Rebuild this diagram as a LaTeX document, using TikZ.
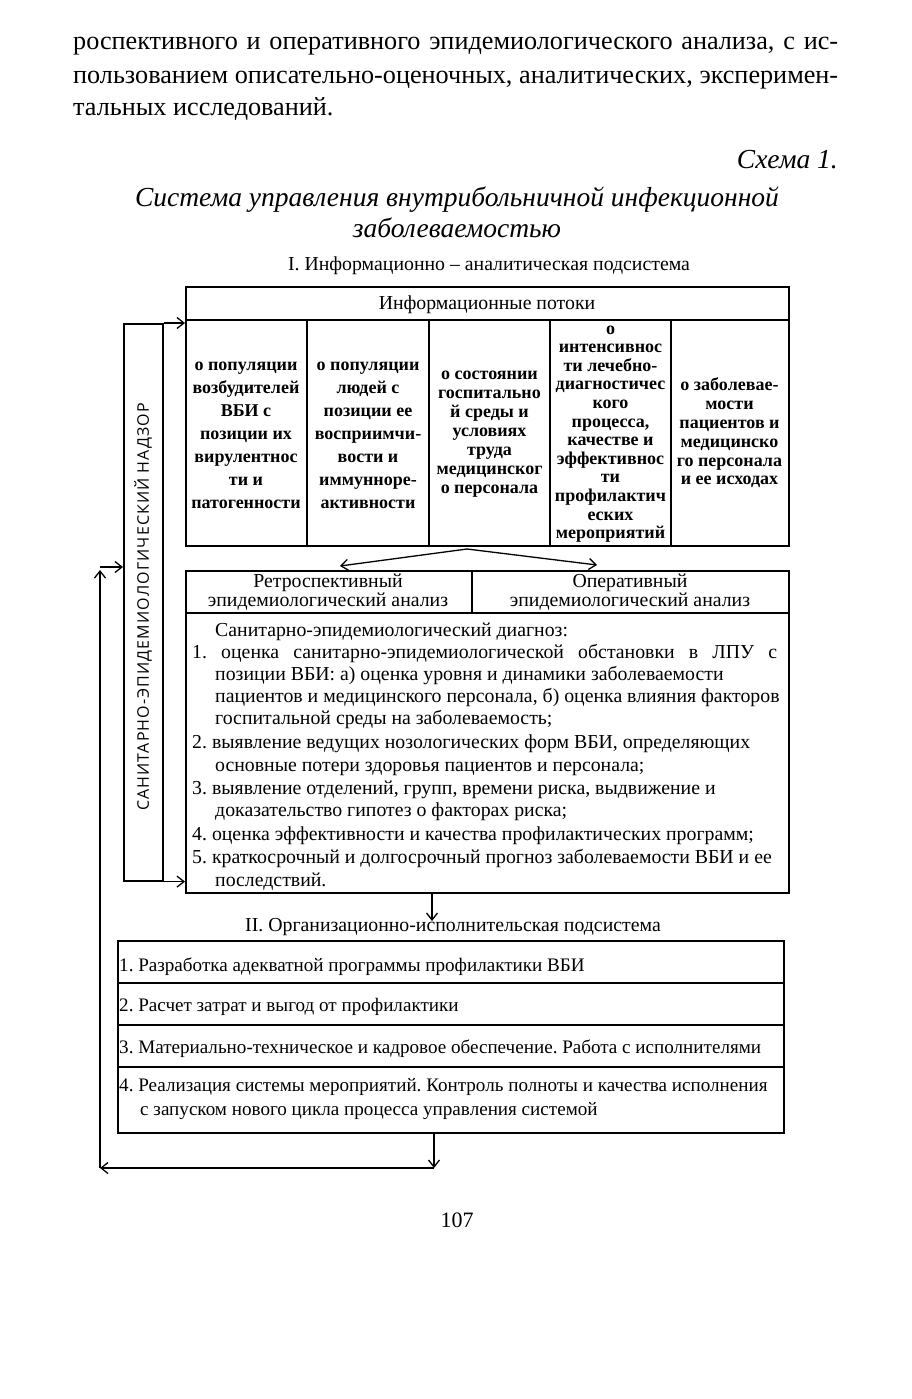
\documentclass[tikz,border=0pt]{standalone}
\usepackage{fontspec}
\setmainfont{Liberation Serif}
\newfontfamily\vsans[LetterSpace=7]{Open Sans}
\usetikzlibrary{arrows.meta}
\newcommand{\fs}[2]{\fontsize{#1}{#2}\selectfont}
\frenchspacing
\begin{document}
\begin{tikzpicture}[x=1pt,y=-1pt,
  box/.style={draw, line width=1.6pt, inner sep=0pt},
  divl/.style={line width=1.3pt},
  cell/.style={align=center, inner sep=0pt},
  dline/.style={anchor=base west, inner sep=0pt, font=\fs{19.8}{22}},
  oline/.style={anchor=base west, inner sep=0pt, font=\fs{19.1}{22}},
  lab/.style={anchor=base, inner sep=0pt, font=\fs{19.8}{22}},
  para/.style={anchor=base west, inner sep=0pt, font=\fs{26.2}{33}},
  ttl/.style={inner sep=0pt, font=\fs{27.5}{30}\itshape},
  cfont/.style={font=\bfseries\fs{18}{#1}},
  arr/.style={-{Straight Barb[length=7pt,width=11pt]}, line width=1.3pt}]
\useasboundingbox[fill=white] (0,0) rectangle (912,1399);

% top paragraph
\node[para] (p1) at (73,50) {\makebox[765pt][s]{роспективного и оперативного эпидемиологического анализа, с ис-}};
\node[para] (p2) at (73,84) {\makebox[765pt][s]{пользованием описательно-оценочных, аналитических, эксперимен-}};
\node[para] (p3) at (73,116) {тальных исследований.};

% title
\node[ttl, anchor=base east] (schema) at (838,168) {Схема 1.};
\node[ttl, anchor=base] (t1) at (457,206) {Система управления внутрибольничной инфекционной};
\node[ttl, anchor=base] (t2) at (457,237) {заболеваемостью};

% subsystem I label
\node[lab] (lab1) at (489,270) {I. Информационно – аналитическая подсистема};

% information table
\node[box, anchor=north west, minimum width=603pt, minimum height=259pt] (info) at (185,286) {};
\draw[divl] (185,320) -- (788,320);
\foreach \x in {307,429,550,671} \draw[divl] (\x,320) -- (\x,545);
\node[lab] (ihead) at (487,309) {Информационные потоки};

\node[cell, cfont=23] (c1) at (246,435) {о популяции\\возбудителей\\ВБИ с\\позиции их\\вирулентнос\\ти и\\патогенности};
\node[cell, cfont=23] (c2) at (368,435) {о популяции\\людей с\\позиции ее\\восприимчи-\\вости и\\иммунноре-\\активности};
\node[cell, cfont=19] (c3) at (489.5,434) {о состоянии\\госпитально\\й среды и\\условиях\\труда\\медицинског\\о персонала};
\node[cell, cfont=18.6] (c4) at (610.5,434) {о\\интенсивнос\\ти лечебно-\\диагностичес\\кого\\процесса,\\качестве и\\эффективнос\\ти\\профилактич\\еских\\мероприятий};
\node[cell, cfont=18.8] (c5) at (729.5,433) {о заболевае-\\мости\\пациентов и\\медицинско\\го персонала\\и ее исходах};

% split arrows
\coordinate (spl) at (467,549);
\coordinate (lt) at (340,566);
\coordinate (rt) at (597,565);
\draw[arr] (spl) -- (lt);
\draw[arr] (spl) -- (rt);

% analysis box
\node[box, anchor=north west, minimum width=603pt, minimum height=322pt] (anbox) at (185,570) {};
\draw[divl] (185,613) -- (788,613);
\draw[divl] (472,570) -- (472,613);
\node[cell, font=\fs{19.8}{19}] (retro) at (328,592) {Ретроспективный\\эпидемиологический анализ};
\node[cell, font=\fs{19.8}{19}] (oper) at (630,592) {Оперативный\\эпидемиологический анализ};

\node[dline] (d0) at (215,636) {Санитарно-эпидемиологический диагноз:};
\node[dline] (d1) at (192,658) {\makebox[585pt][s]{1. оценка санитарно-эпидемиологической обстановки в ЛПУ с}};
\node[dline] (d2) at (215,680) {позиции ВБИ: а) оценка уровня и динамики заболеваемости};
\node[dline] (d3) at (215,702) {пациентов и медицинского персонала, б) оценка влияния факторов};
\node[dline] (d4) at (215,724) {госпитальной среды на заболеваемость;};
\node[dline] (d5) at (192,748) {2. выявление ведущих нозологических форм ВБИ, определяющих};
\node[dline] (d6) at (215,771) {основные потери здоровья пациентов и персонала;};
\node[dline] (d7) at (192,794) {3. выявление отделений, групп, времени риска, выдвижение и};
\node[dline] (d8) at (215,816) {доказательство гипотез о факторах риска;};
\node[dline] (d9) at (192,840) {4. оценка эффективности и качества профилактических программ;};
\node[dline] (d10) at (192,863) {5. краткосрочный и долгосрочный прогноз заболеваемости ВБИ и ее};
\node[dline] (d11) at (215,886) {последствий.};

% vertical supervision box
\node[box, anchor=north west, minimum width=39pt, minimum height=557pt] (vbox) at (123,323) {};
\node[rotate=90, inner sep=0pt, font=\vsans\fs{16}{18}] (vtext) at (143,607) {САНИТАРНО-ЭПИДЕМИОЛОГИЧЕСКИЙ НАДЗОР};
\draw[arr] (vbox.north east) -- (vbox.north east -| info.west);
\draw[arr] (vbox.south east) -- (vbox.south east -| anbox.west);

% arrow to subsystem II
\coordinate (ax) at (432,921);
\draw[arr] (anbox.south -| ax) -- (ax);
\node[lab] (lab2) at (453,931) {II. Организационно-исполнительская подсистема};

% organisational box
\node[box, anchor=north west, minimum width=666pt, minimum height=192pt] (orgbox) at (117,940) {};
\foreach \y in {983,1025,1067} \draw[divl] (117,\y) -- (783,\y);
\node[oline] (o1) at (119,971) {1. Разработка адекватной программы профилактики ВБИ};
\node[oline] (o2) at (119,1011) {2. Расчет затрат и выгод от профилактики};
\node[oline] (o3) at (119,1053) {3. Материально-техническое и кадровое обеспечение. Работа с исполнителями};
\node[oline] (o4) at (119,1091) {4. Реализация системы мероприятий. Контроль полноты и качества исполнения};
\node[oline] (o5) at (140,1115) {с запуском нового цикла процесса управления системой};

% feedback loop
\coordinate (b1) at (434,1168);
\coordinate (b2) at (100,1168);
\coordinate (b3) at (100,570);
\coordinate (b4) at (100,567);
\draw[arr] (orgbox.south -| b1) -- (b1);
\draw[arr] (b1) -- (b2);
\draw[arr] (b2) -- (b3);
\draw[arr] (b4) -- (b4 -| vbox.west);

% page number
\node[anchor=base, inner sep=0pt, font=\fs{22}{26}] (pg) at (457,1227) {107};
\end{tikzpicture}
\end{document}
